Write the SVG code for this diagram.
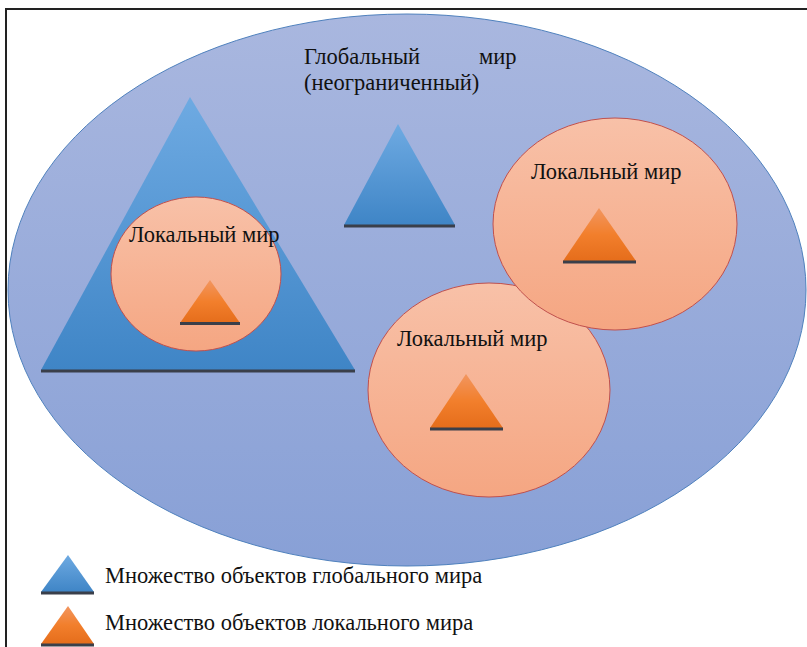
<svg xmlns="http://www.w3.org/2000/svg" width="807" height="647" viewBox="0 0 807 647">
<defs>
<linearGradient id="gWorld" x1="0" y1="0" x2="0" y2="1">
<stop offset="0" stop-color="#a9b7df"/>
<stop offset="1" stop-color="#88a0d6"/>
</linearGradient>
<linearGradient id="gBlue" x1="0" y1="0" x2="0" y2="1">
<stop offset="0" stop-color="#6eaae2"/>
<stop offset="1" stop-color="#3f85c6"/>
</linearGradient>
<linearGradient id="gOrange" x1="0" y1="0" x2="0" y2="1">
<stop offset="0" stop-color="#f29660"/>
<stop offset="0.5" stop-color="#f27f2c"/>
<stop offset="1" stop-color="#e56d1b"/>
</linearGradient>
<linearGradient id="gLocal" x1="0" y1="0" x2="0" y2="1">
<stop offset="0" stop-color="#f8c1a8"/>
<stop offset="1" stop-color="#f5a682"/>
</linearGradient>
<clipPath id="page"><rect x="0" y="0" width="807" height="647"/></clipPath>
</defs>
<style>
text{font-family:'Liberation Serif','Times New Roman',serif;font-size:22.5px;fill:#111}
.world{fill:url(#gWorld);stroke:#4f81bd;stroke-width:1}
.local{fill:url(#gLocal);stroke:#c0504d;stroke-width:1}
.blue{fill:url(#gBlue)}
.orange{fill:url(#gOrange)}
.base{stroke:#3a3f4a;stroke-width:3}
.frame{stroke:#222;stroke-width:2;fill:none}
</style>
<path class="frame" d="M6,647 V9 H807"/>
<g id="global-world" clip-path="url(#page)">
<ellipse class="world" cx="407" cy="290" rx="399" ry="276"/>
<text x="304" y="64">Глобальный</text>
<text x="479" y="64">мир</text>
<text x="304" y="90">(неограниченный)</text>
</g>
<g id="big-global-object">
<polygon class="blue" points="190,97 355,370 41,370"/>
<line class="base" x1="41" y1="371" x2="355" y2="371"/>
</g>
<g id="local-world-1">
<ellipse class="local" cx="196" cy="274" rx="85" ry="77"/>
<text x="129" y="242">Локальный мир</text>
<polygon class="orange" points="210,280 240,323 180,323"/>
<line class="base" x1="180" y1="323.5" x2="240" y2="323.5"/>
</g>
<g id="global-object">
<polygon class="blue" points="398,124 455,225 344,225"/>
<line class="base" x1="344" y1="226" x2="455" y2="226"/>
</g>
<g id="local-world-3">
<ellipse class="local" cx="489" cy="390" rx="121" ry="107"/>
<text x="397" y="346">Локальный мир</text>
<polygon class="orange" points="466,374 503,428 430,428"/>
<line class="base" x1="430" y1="429" x2="503" y2="429"/>
</g>
<g id="local-world-2">
<ellipse class="local" cx="615" cy="224" rx="122" ry="106"/>
<text x="531" y="179">Локальный мир</text>
<polygon class="orange" points="599,208 636,261 563,261"/>
<line class="base" x1="563" y1="262" x2="636" y2="262"/>
</g>
<g id="legend-global">
<polygon class="blue" points="68,555 94,592 41,592"/>
<line class="base" x1="41" y1="593" x2="94" y2="593"/>
<text x="105" y="583">Множество объектов глобального мира</text>
</g>
<g id="legend-local">
<polygon class="orange" points="68,606 94,644 41,644"/>
<line class="base" x1="41" y1="645" x2="94" y2="645"/>
<text x="105" y="630">Множество объектов локального мира</text>
</g>
<g id="connectors"/>
</svg>
